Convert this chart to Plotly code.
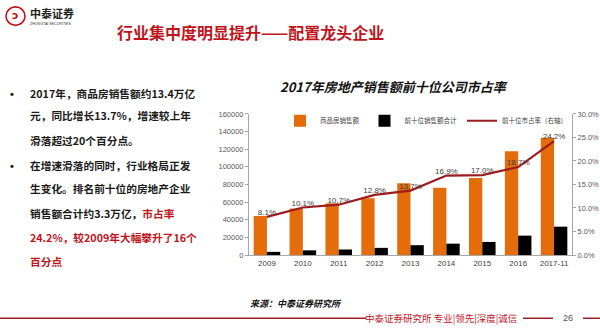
import plotly.graph_objects as go

# ---------------- data ----------------
categories = ["2009", "2010", "2011", "2012", "2013", "2014", "2015", "2016", "2017-11"]
sales_total = [44355, 52721, 58589, 64456, 81428, 76292, 87281, 117627, 133000]   # 商品房销售额
top10_sales = [3593, 5325, 6269, 8121, 11156, 12893, 14838, 21996, 32180]        # 前十位销售额合计
top10_share = [0.081, 0.101, 0.107, 0.128, 0.137, 0.169, 0.170, 0.187, 0.242]    # 前十位市占率
left_ticks = [0, 20000, 40000, 60000, 80000, 100000, 120000, 140000, 160000]
right_ticks = [0.0, 0.05, 0.10, 0.15, 0.20, 0.25, 0.30]

W, H = 600, 333
def px(x):
    return x / W
def py(y):
    return 1 - y / H

CJK = "Noto Sans CJK SC"
RED = "#C0141C"
DARKRED = "#9E1B2A"

fig = go.Figure()
fig.add_trace(go.Bar(x=categories, y=sales_total, name="商品房销售额",
                     marker=dict(color="#E46C0A", line=dict(width=0))))
fig.add_trace(go.Bar(x=categories, y=top10_sales, name="前十位销售额合计",
                     marker=dict(color="#000000", line=dict(width=0))))
fig.add_trace(go.Scatter(x=categories, y=top10_share, name="前十位市占率（右轴）", yaxis="y2",
                         mode="lines+text",
                         text=[f"{v*100:.1f}%" for v in top10_share],
                         textposition="top center",
                         textfont=dict(size=8, color="#404040", family="Liberation Sans"),
                         line=dict(color="#9B1B1E", width=2.2)))

axis_grey = "#A6A6A6"
tick_font = dict(size=7.5, color="#595959", family="Liberation Sans")

fig.update_layout(
    width=W, height=H,
    margin=dict(l=0, r=0, t=0, b=0),
    paper_bgcolor="white", plot_bgcolor="white",
    barmode="group", bargap=0.26, bargroupgap=0,
    showlegend=True,
    legend=dict(orientation="h", x=px(280), y=py(120), xanchor="left", yanchor="middle",
                font=dict(size=6.5, color="#404040", family=CJK),
                itemwidth=30, bgcolor="rgba(0,0,0,0)", tracegroupgap=0),
    xaxis=dict(domain=[px(249), px(572)], type="category",
               showline=True, linecolor=axis_grey, linewidth=1,
               ticks="", tickfont=dict(size=8, color="#404040", family="Liberation Sans"),
               showgrid=False, zeroline=False),
    yaxis=dict(domain=[py(258), py(113)], range=[0, 160000],
               tickvals=left_ticks, ticktext=[str(v) for v in left_ticks],
               showline=True, linecolor=axis_grey, linewidth=1,
               ticks="outside", ticklen=3, tickcolor=axis_grey,
               tickfont=tick_font, showgrid=False, zeroline=False),
    yaxis2=dict(overlaying="y", side="right", anchor="x", range=[0, 0.30],
                tickvals=right_ticks, tickformat=".1%",
                showline=True, linecolor=axis_grey, linewidth=1,
                ticks="outside", ticklen=3, tickcolor=axis_grey,
                tickfont=tick_font, showgrid=False, zeroline=False),
)

annotations = []
def ann(text, x, y, size, color="#000000", xanchor="left", weight="normal", style="normal", family=CJK):
    annotations.append(dict(text=text, x=px(x), y=py(y), xref="paper", yref="paper",
                            xanchor=xanchor, yanchor="middle", showarrow=False,
                            font=dict(size=size, color=color, family=family, weight=weight, style=style)))

# logo & slide title
ann("中泰证券", 28, 9, 11, "#222222", weight="bold")
ann("ZHONGTAI SECURITIES", 28, 20.5, 3.6, "#333333", family="Liberation Sans")
ann("ↄ", 15.5, 12, 11, RED, xanchor="center", weight="bold", family="DejaVu Sans")
ann("行业集中度明显提升——配置龙头企业", 115, 29, 16, RED, weight="bold")

# left text block
txt = "#1A1A1A"
lines = [
    ("2017年，商品房销售额约13.4万亿", 92),
    ("元，同比增长13.7%，增速较上年", 115),
    ("滑落超过20个百分点。", 140),
    ("在增速滑落的同时，行业格局正发", 166),
    ("生变化。排名前十位的房地产企业", 190),
    (f"销售额合计约3.3万亿，<span style='color:{RED}'>市占率</span>", 215),
    (f"<span style='color:{RED}'>24.2%，较2009年大幅攀升了16个</span>", 240),
    (f"<span style='color:{RED}'>百分点</span>", 265),
]
for t, y in lines:
    ann(t, 28, y, 10.7, txt, weight="bold")
ann("•", 8, 92, 11, txt, weight="bold", family="Liberation Sans")
ann("•", 8, 166, 11, txt, weight="bold", family="Liberation Sans")

# chart title and source
ann("2017年房地产销售额前十位公司市占率", 394, 85, 13, "#111111", xanchor="center",
    weight="bold", style="italic")
ann("来源：中泰证券研究所", 248, 308, 9, "#111111", weight="bold", style="italic")

# footer
ann("中泰证券研究所 专业|领先|深度|诚信", 441, 323, 9.5, RED, xanchor="center")
ann("26", 568, 323, 9, "#555555", xanchor="center", family="Liberation Sans")

fig.update_layout(annotations=annotations)

shapes = [
    dict(type="circle", xref="paper", yref="paper", x0=px(6), x1=px(25), y0=py(22), y1=py(3),
         line=dict(color=RED, width=1.6)),
    dict(type="line", xref="paper", yref="paper", x0=0, x1=px(366), y0=py(323), y1=py(323),
         line=dict(color=DARKRED, width=1.5)),
    dict(type="line", xref="paper", yref="paper", x0=px(523), x1=px(553), y0=py(323), y1=py(323),
         line=dict(color=DARKRED, width=1.5)),
    dict(type="line", xref="paper", yref="paper", x0=px(583), x1=1, y0=py(323), y1=py(323),
         line=dict(color=DARKRED, width=1.5)),
]
fig.update_layout(shapes=shapes)

fig.write_html("out.html")
